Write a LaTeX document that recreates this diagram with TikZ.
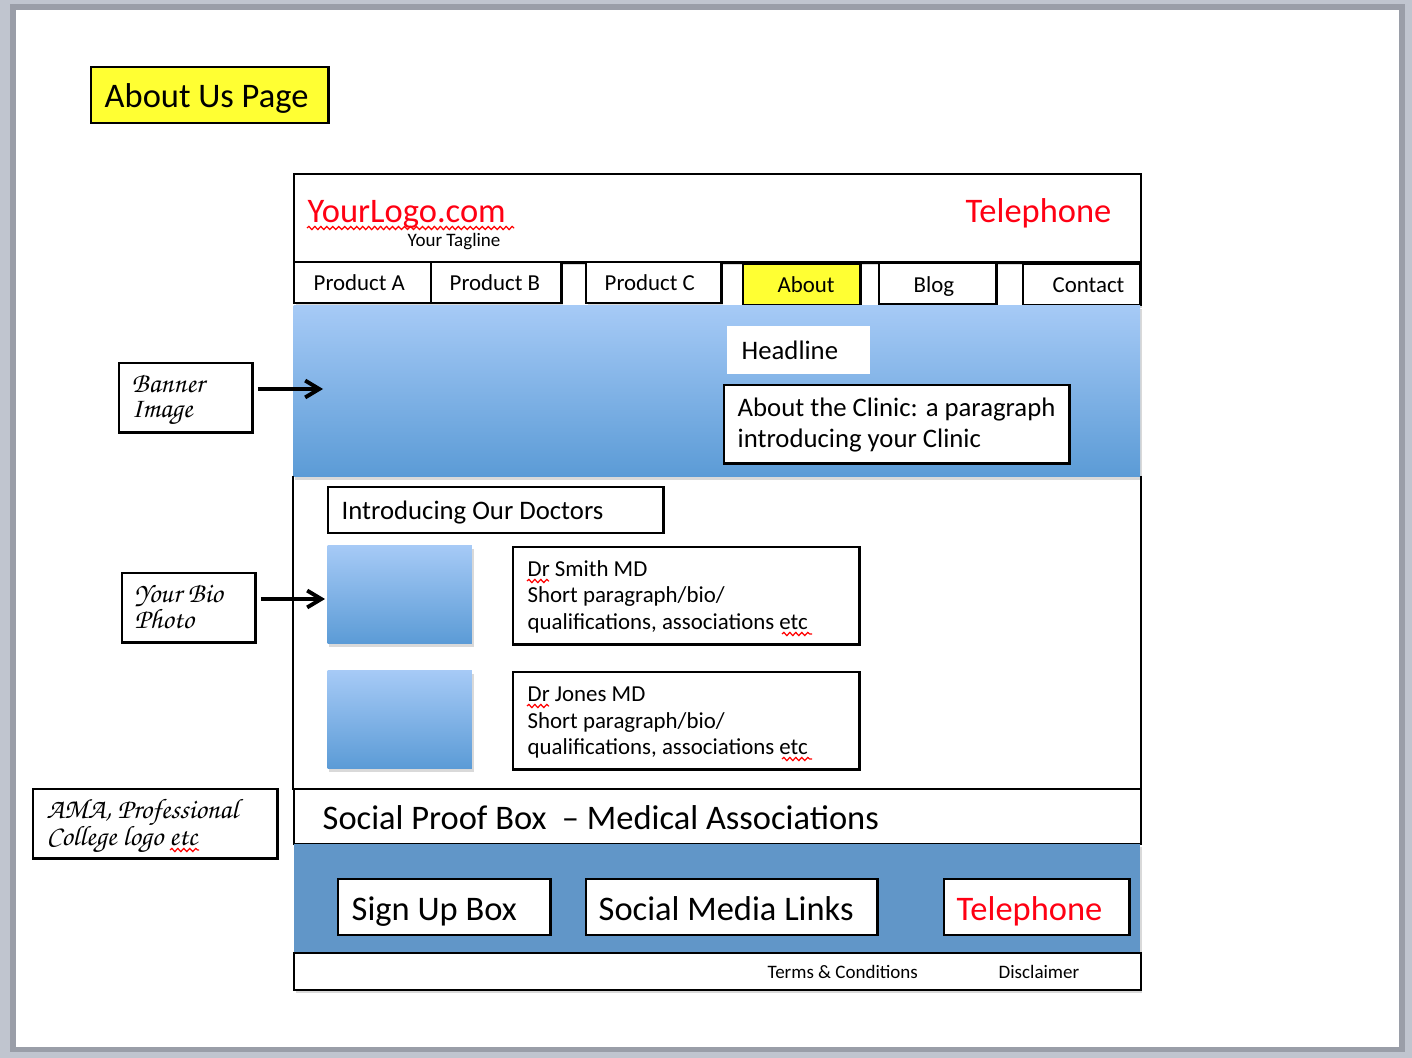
\documentclass[tikz,border=0pt]{standalone}
\usepackage{fontspec}
\setmainfont{Carlito}
\newfontfamily\handfont{TeX Gyre Chorus}
\usetikzlibrary{arrows.meta, positioning, shadows, decorations.pathmorphing}

\definecolor{slidegray}{HTML}{C0C5CF}
\definecolor{slideedge}{HTML}{9A9EA8}
\definecolor{tagyellow}{HTML}{FFFF33}
\definecolor{bannertop}{HTML}{A6CAF6}
\definecolor{bannerbot}{HTML}{5B9BD6}
\definecolor{footblue}{HTML}{6196C8}
\definecolor{logored}{HTML}{FF0013}

\tikzset{
  box/.style={draw=black, line width=0.7pt, fill=white, anchor=north west, inner sep=0pt},
  plain/.style={anchor=north west, inner sep=0pt},
  soft/.style={drop shadow={shadow xshift=0.5pt, shadow yshift=-0.8pt, opacity=0.15, fill=black}},
  txt/.style={anchor=base west, inner sep=0pt},
  bigtext/.style={txt, font=\fontsize{9.8}{11}\selectfont},
  midtext/.style={txt, font=\fontsize{7.6}{9}\selectfont},
  smalltext/.style={txt, font=\fontsize{6.5}{8}\selectfont},
  tinytext/.style={txt, font=\fontsize{5.4}{6.5}\selectfont},
  handtext/.style={txt, font=\handfont\fontsize{8}{9}\selectfont},
  pointer/.style={line width=1.1pt, -{Straight Barb[length=4pt, width=4.8pt]}},
  squiggle/.style={draw=red, line width=0.35pt, decorate,
    decoration={snake, amplitude=0.45pt, segment length=1.7pt}}
}

\begin{document}
\begin{tikzpicture}[x=0.01cm, y=-0.01cm]
% slide
\fill[slidegray] (0,0) rectangle (1412,1058);
\fill[slideedge] (10,4) rectangle (1405,1052);
\fill[white] (16,10) rectangle (1399,1047);
\useasboundingbox (0,0) rectangle (1412,1058);

% page title
\node[box, fill=tagyellow, minimum width=2.37cm, minimum height=0.56cm] (title) at (90,66) {};
\node[bigtext] (titletxt) at (104,108) {About Us Page};

% header
\node[box, soft, minimum width=8.46cm, minimum height=0.88cm] (header) at (293,173) {};
\node[bigtext, text=logored] (logo) at (307,223) {YourLogo.com};
\node[tinytext] (tagline) at (407,247) {Your Tagline};
\node[bigtext, text=logored, anchor=base east] (phone) at (1112,223) {Telephone};
\draw[squiggle] (307,228) -- (514,228);

% menu
\node[box, soft, minimum width=1.37cm, minimum height=0.41cm] (proda) at (293,261) {};
\node[box, soft, minimum width=1.30cm, minimum height=0.41cm] (prodb) at (430,261) {};
\node[box, soft, minimum width=1.35cm, minimum height=0.41cm] (prodc) at (585,261) {};
\node[box, soft, fill=tagyellow, minimum width=1.17cm, minimum height=0.41cm] (about) at (742,263) {};
\node[box, soft, minimum width=1.17cm, minimum height=0.41cm] (blog) at (878,262) {};
\node[box, soft, minimum width=1.17cm, minimum height=0.41cm] (contact) at (1022,263) {};
\node[smalltext] at (313,291) {Product A};
\node[smalltext] at (449,291) {Product B};
\node[smalltext] at (604,291) {Product C};
\node[smalltext] at (777,293) {About};
\node[smalltext] at (913,293) {Blog};
\node[smalltext] at (1052,293) {Contact};

% banner
\node[plain, soft, top color=bannertop, bottom color=bannerbot,
  minimum width=8.46cm, minimum height=1.71cm] (banner) at (293,305) {};
\node[plain, fill=white, minimum width=1.43cm, minimum height=0.48cm] (headline) at (726,325) {};
\node[midtext] (headtxt) at (741,360) {Headline};
\node[box, minimum width=3.45cm, minimum height=0.78cm] (clinic) at (723,384) {};
\node[midtext] (clinica) at (737,417) {About the Clinic: a paragraph};
\node[midtext] (clinicb) at (737,448) {introducing your Clinic};

% doctors
\node[plain, minimum width=8.46cm, minimum height=3.12cm] (content) at (293,476) {};
\draw[line width=0.7pt] (content.north west) -- (content.south west);
\draw[line width=0.7pt] (content.north east) -- (content.south east);
\node[box, minimum width=3.35cm, minimum height=0.46cm] (intro) at (327,486) {};
\node[midtext] (introtxt) at (341,519) {Introducing Our Doctors};

\node[plain, soft, top color=bannertop, bottom color=bannerbot,
  minimum width=1.44cm, minimum height=0.98cm] (photoa) at (327,545) {};
\node[box, minimum width=3.46cm, minimum height=0.97cm] (bioa) at (512,546) {};
\node[smalltext] (bioa1) at (527,576) {Dr Smith MD};
\node[smalltext] (bioa2) at (527,603) {Short paragraph/bio/};
\node[smalltext] (bioa3) at (527,629) {qualifications, associations etc};
\draw[squiggle] (527,581) -- (549,581);
\draw[squiggle] (782,634) -- (812,634);

\node[plain, soft, top color=bannertop, bottom color=bannerbot,
  minimum width=1.44cm, minimum height=0.98cm] (photob) at (327,670) {};
\node[box, minimum width=3.46cm, minimum height=0.97cm] (biob) at (512,671) {};
\node[smalltext] (biob1) at (527,701) {Dr Jones MD};
\node[smalltext] (biob2) at (527,728) {Short paragraph/bio/};
\node[smalltext] (biob3) at (527,754) {qualifications, associations etc};
\draw[squiggle] (527,706) -- (549,706);
\draw[squiggle] (782,759) -- (812,759);

% social proof
\node[box, minimum width=8.46cm, minimum height=0.55cm] (proof) at (293,788) {};
\node[bigtext] (prooftxt) at (322,829) {Social Proof Box \ – Medical Associations};

% footer
\node[plain, soft, fill=footblue, minimum width=8.46cm, minimum height=1.09cm] (footer) at (293,843) {};
\node[box, minimum width=2.12cm, minimum height=0.56cm] (signup) at (337,878) {};
\node[box, minimum width=2.91cm, minimum height=0.56cm] (social) at (585,878) {};
\node[box, minimum width=1.85cm, minimum height=0.56cm] (footphone) at (943,878) {};
\node[bigtext] (signuptxt) at (351,920) {Sign Up Box};
\node[bigtext] (socialtxt) at (598,920) {Social Media Links};
\node[bigtext, text=logored] (footphonetxt) at (956,920) {Telephone};
\node[box, soft, minimum width=8.46cm, minimum height=0.37cm] (legal) at (293,952) {};
\node[tinytext] (terms) at (767,978) {Terms \& Conditions};
\node[tinytext] (disclaimer) at (998,978) {Disclaimer};

% notes on the left
\node[box, minimum width=1.33cm, minimum height=0.69cm] (bannerlbl) at (118,362) {};
\node[handtext] at (131,393) {Banner};
\node[handtext] at (131,418) {Image};
\node[box, minimum width=1.33cm, minimum height=0.69cm] (biolbl) at (121,572) {};
\node[handtext] at (134,603) {Your Bio};
\node[handtext] at (134,628) {Photo};
\node[box, minimum width=2.44cm, minimum height=0.69cm] (amalbl) at (32,788) {};
\node[handtext] (ama1) at (46,818) {AMA, Professional};
\node[handtext] (ama2) at (46,845) {College logo etc};
\draw[squiggle] (170,850) -- (199,850);

\coordinate (bannertip) at (323,389);
\coordinate (biotip) at (325,599);
\draw[pointer, shorten <=1.2pt] (bannerlbl.east |- bannertip) -- (bannertip);
\draw[pointer, shorten <=1.2pt] (biolbl.east |- biotip) -- (biotip);
\end{tikzpicture}
\end{document}
